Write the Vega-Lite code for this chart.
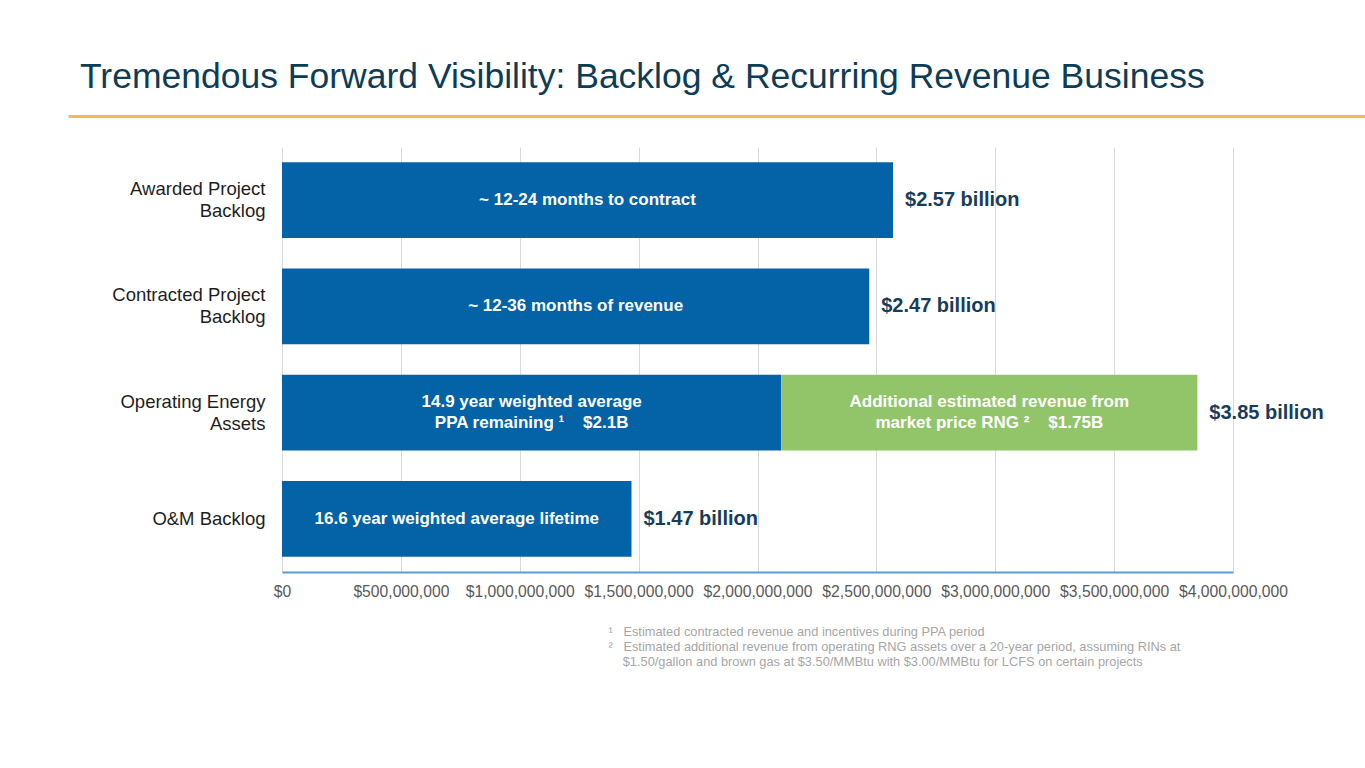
{
  "$schema": "https://vega.github.io/schema/vega-lite/v6.json",
  "padding": {"left": 68, "top": 59, "right": 0, "bottom": 10},
  "background": "white",
  "columns": 1,
  "align": "none",
  "spacing": 31,
  "config": {
    "view": {"stroke": null},
    "font": "Liberation Sans"
  },
  "datasets": {
    "segments": [
      {"category": "Awarded Project Backlog", "part": "Contracted / backlog", "start": 0, "end": 2570000000, "label": "~ 12-24 months to contract"},
      {"category": "Contracted Project Backlog", "part": "Contracted / backlog", "start": 0, "end": 2470000000, "label": "~ 12-36 months of revenue"},
      {"category": "Operating Energy Assets", "part": "Contracted / backlog", "start": 0, "end": 2100000000, "label": "14.9 year weighted average\nPPA remaining ¹\u00a0\u00a0\u00a0 $2.1B"},
      {"category": "Operating Energy Assets", "part": "Market price RNG", "start": 2100000000, "end": 3850000000, "label": "Additional estimated revenue from\nmarket price RNG ²\u00a0\u00a0\u00a0 $1.75B"},
      {"category": "O&M Backlog", "part": "Contracted / backlog", "start": 0, "end": 1470000000, "label": "16.6 year weighted average lifetime"}
    ],
    "totals": [
      {"category": "Awarded Project Backlog", "total": 2570000000, "label": "$2.57 billion"},
      {"category": "Contracted Project Backlog", "total": 2470000000, "label": "$2.47 billion"},
      {"category": "Operating Energy Assets", "total": 3850000000, "label": "$3.85 billion"},
      {"category": "O&M Backlog", "total": 1470000000, "label": "$1.47 billion"}
    ],
    "header": [{"v": 0}]
  },
  "concat": [
    {
      "width": 1297,
      "height": 1,
      "title": {
        "text": "Tremendous Forward Visibility: Backlog & Recurring Revenue Business",
        "anchor": "start",
        "dx": 12,
        "fontSize": 35.5,
        "fontWeight": "normal",
        "color": "#0d3d56",
        "baseline": "alphabetic",
        "offset": -8
      },
      "data": {"name": "header"},
      "mark": {"type": "point", "opacity": 0, "size": 0},
      "encoding": {
        "x": {
          "field": "v",
          "type": "quantitative",
          "scale": {"domain": [0, 1]},
          "axis": {"position": -214, "domainColor": "#F5B662", "domainWidth": 3, "ticks": false, "labels": false, "grid": false, "title": null}
        }
      }
    },
    {
      "width": 951,
      "height": 425,
      "encoding": {
        "y": {
          "field": "category",
          "type": "nominal",
          "sort": ["Awarded Project Backlog", "Contracted Project Backlog", "Operating Energy Assets", "O&M Backlog"],
          "scale": {"paddingInner": 0.285, "paddingOuter": 0.1425},
          "axis": {
            "title": null,
            "domain": false,
            "ticks": false,
            "grid": false,
            "labelFontSize": 18.5,
            "labelColor": "#1e1e1e",
            "labelPadding": 17,
            "labelLineHeight": 22,
            "labelLimit": 0,
            "minExtent": 214,
            "labelOffset": {"condition": {"test": "datum.value == 'O&M Backlog'", "value": 0}, "value": -11},
            "labelExpr": "datum.value == 'Awarded Project Backlog' ? ['Awarded Project', 'Backlog'] : datum.value == 'Contracted Project Backlog' ? ['Contracted Project', 'Backlog'] : datum.value == 'Operating Energy Assets' ? ['Operating Energy', 'Assets'] : datum.value"
          }
        }
      },
      "layer": [
        {
          "data": {"name": "segments"},
          "mark": {"type": "bar"},
          "encoding": {
            "x": {
              "field": "start",
              "type": "quantitative",
              "scale": {"domain": [0, 4000000000], "nice": false},
              "axis": {
                "values": [0, 500000000, 1000000000, 1500000000, 2000000000, 2500000000, 3000000000, 3500000000, 4000000000],
                "format": "$,.0f",
                "labelFontSize": 15.7,
                "labelColor": "#595959",
                "labelPadding": 12,
                "labelFlush": false,
                "labelOverlap": false,
                "ticks": false,
                "domainColor": "#5b9bd5",
                "domainWidth": 2,
                "grid": true,
                "gridColor": "#d9d9d9",
                "gridWidth": 1,
                "title": [
                  "¹\u00a0\u00a0 Estimated contracted revenue and incentives during PPA period",
                  "²\u00a0\u00a0 Estimated additional revenue from operating RNG assets over a 20-year period, assuming RINs at",
                  "\u200b\u00a0\u00a0\u00a0\u00a0$1.50/gallon and brown gas at $3.50/MMBtu with $3.00/MMBtu for LCFS on certain projects"
                ],
                "titleFontSize": 12.8,
                "titleFontWeight": "normal",
                "titleColor": "#a6a6a6",
                "titleLineHeight": 15,
                "titleAlign": "left",
                "titleBaseline": "top",
                "titleX": 326,
                "titleY": 53
              }
            },
            "x2": {"field": "end"},
            "color": {
              "field": "part",
              "type": "nominal",
              "scale": {"domain": ["Contracted / backlog", "Market price RNG"], "range": ["#0462A6", "#92C56A"]},
              "legend": null
            }
          }
        },
        {
          "data": {"name": "segments"},
          "transform": [
            {"filter": "datum.category != 'Operating Energy Assets'"},
            {"calculate": "(datum.start + datum.end) / 2", "as": "mid"}
          ],
          "mark": {"type": "text", "color": "white", "fontWeight": "bold", "fontSize": 17, "align": "center", "baseline": "middle"},
          "encoding": {
            "x": {"field": "mid", "type": "quantitative"},
            "text": {"field": "label"}
          }
        },
        {
          "data": {"name": "segments"},
          "transform": [
            {"filter": "datum.category == 'Operating Energy Assets'"},
            {"calculate": "(datum.start + datum.end) / 2", "as": "mid"}
          ],
          "mark": {"type": "text", "color": "white", "fontWeight": "bold", "fontSize": 17, "lineBreak": "\n", "lineHeight": 21, "align": "center", "baseline": "middle", "dy": -10.5},
          "encoding": {
            "x": {"field": "mid", "type": "quantitative"},
            "text": {"field": "label"}
          }
        },
        {
          "data": {"name": "totals"},
          "mark": {"type": "text", "align": "left", "baseline": "middle", "dx": 12, "fontWeight": "bold", "fontSize": 20, "color": "#173d5a"},
          "encoding": {
            "x": {"field": "total", "type": "quantitative"},
            "text": {"field": "label"}
          }
        }
      ]
    }
  ]
}
